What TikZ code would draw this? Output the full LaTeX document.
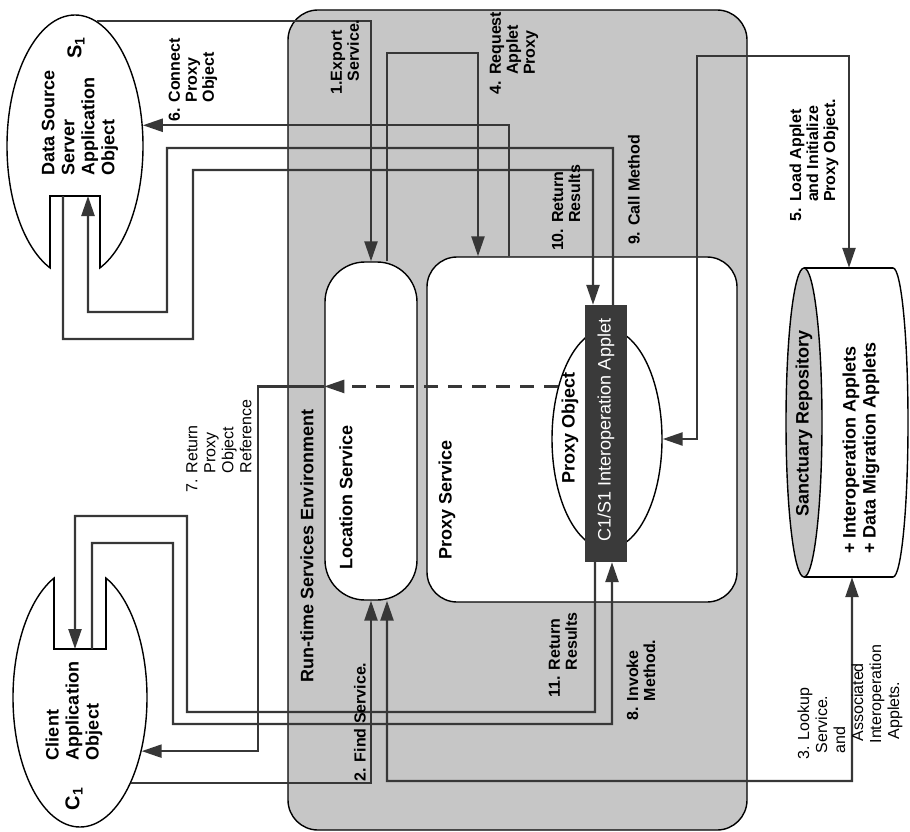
\documentclass[tikz,border=0pt]{standalone}
\usepackage{fontspec}
\setmainfont{Liberation Sans}
\usetikzlibrary{arrows.meta,shapes.geometric}
\definecolor{envgray}{RGB}{198,198,198}
\definecolor{ink}{RGB}{55,55,55}
\definecolor{appletgray}{RGB}{58,58,58}
\begin{document}
\begin{tikzpicture}[x=1bp,y=-1bp,
  conn/.style={draw=ink, line width=2.4bp},
  arr/.style={conn, -{Triangle[length=20bp,width=13bp]}},
  dbl/.style={conn, {Triangle[length=20bp,width=13bp]}-{Triangle[length=20bp,width=13bp]}},
  lbl/.style={rotate=90, align=left, inner sep=0pt, font=\fontsize{16bp}{17bp}\selectfont\bfseries},
  lblr/.style={rotate=90, align=left, inner sep=0pt, font=\fontsize{16bp}{18bp}\selectfont},
  big/.style={rotate=90, align=left, inner sep=0pt, font=\fontsize{18bp}{20bp}\selectfont\bfseries},
  box/.style={draw=black, line width=1.4bp, fill=white}
]
\useasboundingbox (0,0) rectangle (910,832);

% environment
\node[draw=black, line width=1.4bp, fill=envgray, rounded corners=30bp,
      minimum width=459bp, minimum height=820bp, inner sep=0] (env) at (517.5,420) {};
\node[box, rounded corners=40bp, minimum width=92bp, minimum height=338bp, inner sep=0] (loc) at (371,431) {};
\node[box, rounded corners=30bp, minimum width=310bp, minimum height=345bp, inner sep=0] (prx) at (582,429.5) {};
\node[box, ellipse, minimum width=110bp, minimum height=220bp, inner sep=0] (pobj) at (607,439) {};
\node[fill=appletgray, minimum width=42bp, minimum height=257bp, inner sep=0] (applet) at (606,433.5) {};

% data source ellipse with notch
\node[box, ellipse, minimum width=136bp, minimum height=262bp, inner sep=0] (ds) at (75,146) {};
\fill[white] (50.8,190) rectangle (99.2,285);
\draw[line width=1.4bp] (50,267.8) -- (50,196) -- (100,196) -- (100,267.8);
\coordinate (dsn) at (75,196);

% client ellipse with notch
\node[box, ellipse, minimum width=134bp, minimum height=259bp, inner sep=0] (cl) at (80,697.5) {};
\fill[white] (54.8,560) rectangle (105.2,649);
\draw[line width=1.4bp] (54,578.2) -- (54,649) -- (106,649) -- (106,578.2);
\coordinate (cln) at (80,649);

% repository cylinder
\node[draw=none, minimum width=122bp, minimum height=309bp, inner sep=0] (repo) at (847,422.5) {};
\fill[white] (804,268) rectangle (893,577);
\begin{scope}
  \clip (893,250) rectangle (915,600);
  \draw[line width=1.4bp, fill=white] (893,422.5) ellipse [x radius=15, y radius=154.5];
\end{scope}
\draw[line width=1.4bp] (804,268) -- (893,268) (804,577) -- (893,577);
\draw[line width=1.4bp, fill=envgray] (804,422.5) ellipse [x radius=18, y radius=154.5];

% texts
\node[big] at (307,546) {Run-time Services Environment};
\node[big] at (346,497) {Location Service};
\node[big] at (447,500) {Proxy Service};
\node[big] at (570,428) {Proxy Object};
\node[rotate=90, inner sep=0, text=white, font=\fontsize{18bp}{20bp}\selectfont] at (606,430) {C1/S1 Interoperation Applet};
\node[big] at (804,423) {Sanctuary Repository};
\node[big] at (861,448) {+ Interoperation Applets\\+ Data Migration Applets};
\node[big] at (80,123) {Data Source\\Server\\Application\\Object};
\node[rotate=90, inner sep=0, font=\fontsize{20bp}{20bp}\selectfont\bfseries] at (76,48) {S\textsubscript{1}};
\node[big] at (74,711) {Client\\Application\\Object};
\node[rotate=90, inner sep=0, font=\fontsize{20bp}{20bp}\selectfont\bfseries] at (74,799) {C\textsubscript{1}};

% connectors
\draw[arr] (ds.80) -- (ds.80 -| loc.north) -- (loc.north);
\draw[arr] (cl.-59) -- (cl.-59 -| loc.south) -- (loc.south);
\coordinate (b3) at (852,781);
\draw[dbl] ([xshift=16bp]loc.south) |- (b3) -- ([xshift=5bp]repo.south);
\coordinate (b4) at (478,53);
\draw[arr] ([xshift=16bp]loc.north) |- (b4) -- (b4 |- prx.north);
\coordinate (b5) at (697,56);
\draw[dbl] (pobj.east) -| (b5) -| ([xshift=2bp]repo.north);
\draw[arr] ([xshift=-73bp]prx.north) |- (ds.17.4);
\draw[conn, dash pattern=on 14bp off 10bp, -{Triangle[length=20bp,width=13bp]}] (pobj.133.9) -- (pobj.133.9 -| loc.west);
\coordinate (b7) at (258,0);
\draw[arr] (pobj.133.9 -| loc.west) -- (pobj.133.9 -| b7) |- (cl.-41.9);
\coordinate (b8a) at (173,543);
\coordinate (b8b) at (612,724);
\draw[arr] ([xshift=12bp]cln) |- (b8a) |- (b8b) -- ([xshift=6bp]applet.south);
\coordinate (b11a) at (187,712);
\coordinate (b11b) at (75,516);
\draw[arr] ([xshift=-11bp]applet.south) |- (b11a) |- (b11b) -- ([xshift=-5bp]cln);
\coordinate (b9a) at (167,148);
\coordinate (b9b) at (88,312);
\draw[arr] ([xshift=7bp]applet.north) |- (b9a) |- (b9b) -- ([xshift=13bp]dsn);
\coordinate (b10a) at (193,339);
\coordinate (b10b) at (593,170);
\draw[arr] ([xshift=-12bp]dsn) |- (b10a) |- (b10b) -- ([xshift=-13bp]applet.north);

% labels
\node[lbl] at (345,57) {1.Export\\\phantom{1.}Service.};
\node[lbl] at (360,722) {2. Find Service.};
\node[lblr] at (850,702) {3. Lookup\\\hspace*{6bp}Service.\\\hspace*{6bp}and\\\hspace*{18bp}Associated\\\hspace*{16bp}Interoperation\\\hspace*{20bp}Applets.};
\node[lbl] at (514,53) {4. Request\\\phantom{4. }Applet\\\phantom{4. }Proxy};
\node[lbl] at (814,160) {5. Load Applet\\\phantom{5. }and Initialize\\\phantom{5. }Proxy Object.};
\node[lbl] at (193,80) {6. Connect\\\phantom{6. }Proxy\\\phantom{6. }Object};
\node[lblr] at (219,446) {7. Return\\\phantom{7. }Proxy\\\phantom{7. }Object\\\phantom{7. }Reference};
\node[lbl] at (641,680) {8. Invoke\\\phantom{8. }Method.};
\node[lbl] at (634,190) {9. Call Method};
\node[lbl] at (566,208) {10. Return\\\phantom{10. }Results};
\node[lbl] at (563,655) {11. Return\\\phantom{11. }Results};
\end{tikzpicture}
\end{document}
